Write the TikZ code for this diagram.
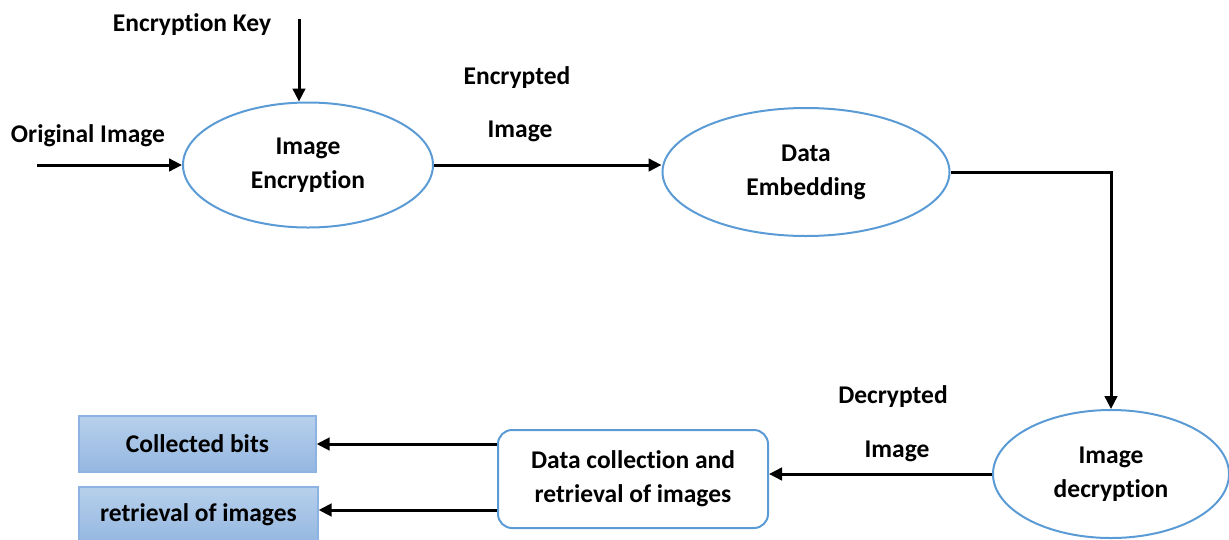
\documentclass[tikz,border=0pt]{standalone}
\usepackage{fontspec}
\setmainfont{Carlito}[Ligatures=NoCommon]
\usetikzlibrary{shapes.geometric,arrows.meta}
\definecolor{edgeblue}{HTML}{5B9BD5}
\definecolor{boxtop}{HTML}{B7D0EC}
\definecolor{boxbot}{HTML}{94B7E0}
\definecolor{boxline}{HTML}{8DB3E2}
\tikzset{
  txt/.style={font=\bfseries\fontsize{25.5}{34}\selectfont, align=center, inner sep=0pt},
  proc/.style={ellipse, draw=edgeblue, line width=2pt, txt},
  flow/.style={draw=black, line width=3pt, -{Triangle[length=13pt,width=12.5pt]}},
  store/.style={rectangle, draw=boxline, line width=1.2pt, top color=boxtop, bottom color=boxbot, txt},
}
\begin{document}
\begin{tikzpicture}[x=1pt,y=-1pt]
\useasboundingbox (0,0) rectangle (1229,539);
% processes
\node[proc, minimum width=250pt, minimum height=125pt] (enc) at (308,165) {Image\\Encryption};
\node[proc, minimum width=287pt, minimum height=128pt] (emb) at (806,172) {Data\\Embedding};
\node[proc, minimum width=236pt, minimum height=128pt] (dec) at (1111,474) {Image\\decryption};
\node[txt, draw=edgeblue, line width=2pt, rounded corners=14pt, minimum width=270pt, minimum height=98pt] (col) at (633,479) {Data collection and\\retrieval of images};
% outputs
\node[store, minimum width=237pt, minimum height=56pt] (bits) at (197.5,444) {Collected bits};
\node[store, minimum width=239pt, minimum height=56pt] (ret) at (198.5,515) {retrieval of images};
% labels
\node[txt] (keylbl) at (192,25) {Encryption Key};
\node[txt] (origlbl) at (88,136) {Original Image};
\node[txt] (enclbl1) at (517,78) {Encrypted};
\node[txt] (enclbl2) at (520,131) {Image};
\node[txt] (declbl1) at (893,397) {Decrypted};
\node[txt] (declbl2) at (897,451) {Image};
% free ends
\coordinate (keytop) at (299,19);
\coordinate (origstart) at (37,165);
% connectors
\draw[flow] (keytop) -- (enc.north -| keytop);
\draw[flow] (origstart) -- (enc.west);
\draw[flow] (enc.east) -- (emb.west |- enc.east);
\draw[flow] (emb.east) -- (emb.east -| dec.north) -- (dec.north);
\draw[flow] (dec.west) -- (col.east |- dec.west);
\draw[flow] (col.west |- bits.east) -- (bits.east);
\draw[flow] (col.west |- 0,510) -- (ret.east |- 0,510);
\end{tikzpicture}
\end{document}
